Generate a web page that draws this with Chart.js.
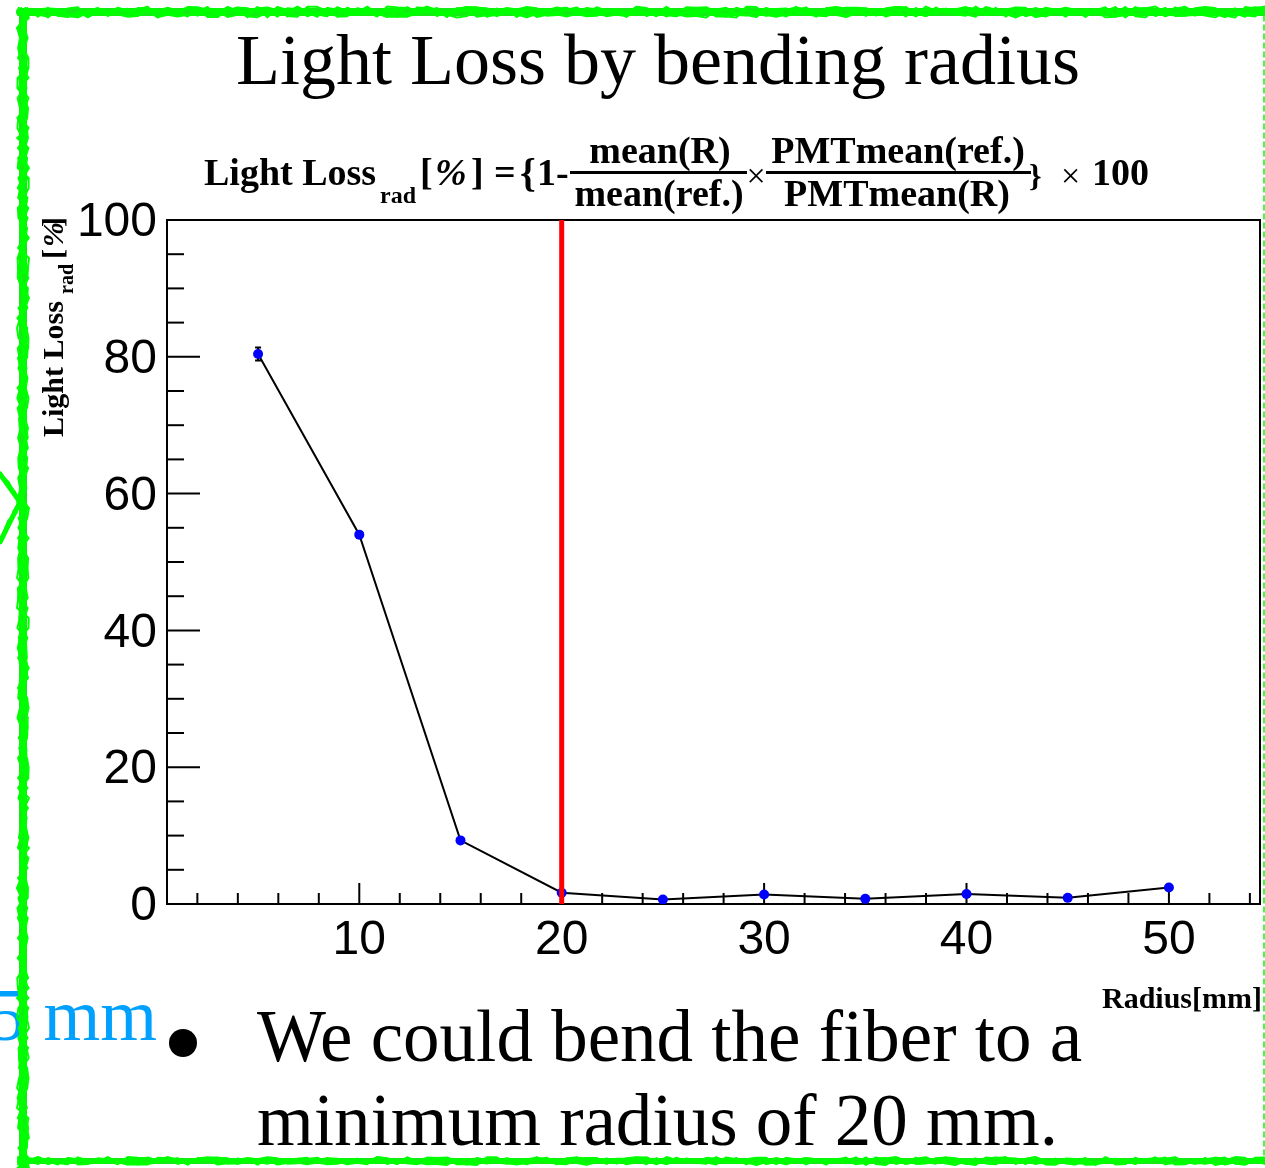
<!DOCTYPE html>
<html><head><meta charset="utf-8">
<script src="https://cdn.jsdelivr.net/npm/chart.js@4/dist/chart.umd.min.js"></script>
<style>html,body{margin:0;padding:0;background:#fff;overflow:hidden}#wrap{position:relative;width:1265px;height:1168px}canvas{display:block}</style>
</head><body><div id="wrap"><canvas id="c" width="1265" height="1168"></canvas></div>
<script>
// ---- data ----
const radius = [5, 10, 15, 20, 25, 30, 35, 40, 45, 50];
const lightLoss = [80.4, 54.0, 9.3, 1.65, 0.65, 1.4, 0.75, 1.45, 0.9, 2.4];
const lightLossErr = [0.95, 0.4, 0.3, 0.2, 0.2, 0.3, 0.2, 0.3, 0.2, 0.3];
const xTickLabels = [10, 20, 30, 40, 50];
const yTickLabels = [0, 20, 40, 60, 80, 100];
const minRadiusLine = 20;
const xRange = [0.5, 54.5];
const yRange = [0, 100];

const SANS = "'Liberation Sans', Arial, sans-serif";
const SERIF = "'Liberation Serif', 'Times New Roman', serif";

function prand(n){ const s = Math.sin(n * 127.1 + 311.7) * 43758.5453; return s - Math.floor(s); }
function scribble(ctx, x1, y1, x2, y2, band, passes, seed, lw){
  const len = Math.hypot(x2 - x1, y2 - y1);
  const steps = Math.max(2, Math.round(len / 10));
  const nx = -(y2 - y1) / len, ny = (x2 - x1) / len;
  ctx.lineWidth = lw;
  for (let p = 0; p < passes; p++){
    ctx.beginPath();
    for (let i = 0; i <= steps; i++){
      const t = i / steps;
      const off = (prand(seed + p * 1000 + i) - 0.5) * band;
      const x = x1 + (x2 - x1) * t + nx * off, y = y1 + (y2 - y1) * t + ny * off;
      if (i) ctx.lineTo(x, y); else ctx.moveTo(x, y);
    }
    ctx.stroke();
  }
}

const decor = {
  id: 'decor',
  beforeDraw(chart){
    const ctx = chart.ctx;
    ctx.save(); ctx.fillStyle = '#fff'; ctx.fillRect(0, 0, chart.width, chart.height); ctx.restore();
  },
  beforeDatasetsDraw(chart){
    const ctx = chart.ctx, a = chart.chartArea, xs = chart.scales.x, ys = chart.scales.y;
    ctx.save();
    ctx.strokeStyle = '#000'; ctx.lineWidth = 2;
    // frame
    ctx.strokeRect(a.left, a.top, a.right - a.left, a.bottom - a.top);
    // x ticks
    for (let v = 2; v <= xRange[1]; v += 2){
      const px = xs.getPixelForValue(v);
      const len = (v % 10 === 0) ? 21 : 11;
      ctx.beginPath(); ctx.moveTo(px, a.bottom); ctx.lineTo(px, a.bottom - len); ctx.stroke();
    }
    // y ticks
    for (let v = 0; v <= yRange[1]; v += 5){
      const py = ys.getPixelForValue(v);
      const len = (v % 20 === 0) ? 33 : 17;
      ctx.beginPath(); ctx.moveTo(a.left, py); ctx.lineTo(a.left + len, py); ctx.stroke();
    }
    // error bars
    ctx.lineWidth = 2;
    radius.forEach((r, i) => {
      const px = xs.getPixelForValue(r);
      const y1 = ys.getPixelForValue(lightLoss[i] + lightLossErr[i]);
      const y2 = ys.getPixelForValue(lightLoss[i] - lightLossErr[i]);
      ctx.beginPath(); ctx.moveTo(px, y1); ctx.lineTo(px, y2);
      ctx.moveTo(px - 3, y1); ctx.lineTo(px + 3, y1);
      ctx.moveTo(px - 3, y2); ctx.lineTo(px + 3, y2);
      ctx.stroke();
    });
    ctx.restore();
  },
  afterDatasetsDraw(chart){
    const ctx = chart.ctx, a = chart.chartArea, xs = chart.scales.x;
    ctx.save();
    ctx.strokeStyle = '#ff0000'; ctx.lineWidth = 5;
    const px = xs.getPixelForValue(minRadiusLine);
    ctx.beginPath(); ctx.moveTo(px, a.top); ctx.lineTo(px, a.bottom); ctx.stroke();
    ctx.restore();
  },
  afterDraw(chart){
    const ctx = chart.ctx;
    ctx.save();
    ctx.fillStyle = '#000';
    // main title
    ctx.font = "72px " + SERIF; ctx.textAlign = 'center'; ctx.textBaseline = 'alphabetic';
    ctx.fillText('Light Loss by bending radius', 658, 84);

    // formula
    ctx.textAlign = 'left';
    const B = "bold 38px " + SERIF;
    ctx.font = B; ctx.fillText('Light Loss', 204, 185);
    ctx.font = "bold 24px " + SERIF; ctx.fillText('rad', 380, 203);
    ctx.font = B; ctx.fillText('[', 420, 185);
    ctx.font = "bold italic 38px " + SERIF; ctx.fillText('%', 435, 185);
    ctx.font = B; ctx.fillText(']', 471, 185);
    ctx.fillText('=', 494, 185);
    ctx.font = "bold 40px " + SERIF; ctx.fillText('{', 520, 186);
    ctx.font = B; ctx.fillText('1-', 537, 185);
    ctx.textAlign = 'center';
    ctx.fillText('mean(R)', 660, 163);
    ctx.fillText('mean(ref.)', 659, 206);
    ctx.fillRect(570, 171, 177, 3);
    ctx.font = "34px " + SERIF; ctx.fillText('\u00d7', 756, 187);
    ctx.font = B;
    ctx.fillText('PMTmean(ref.)', 898, 163);
    ctx.fillText('PMTmean(R)', 897, 206);
    ctx.fillRect(766, 171, 265, 3);
    ctx.textAlign = 'left';
    ctx.font = "bold 32px " + SERIF; ctx.fillText('}', 1029, 186);
    ctx.font = "34px " + SERIF; ctx.fillText('\u00d7', 1061, 187);
    ctx.font = B; ctx.fillText('100', 1092, 185);

    // y axis title
    ctx.save();
    ctx.translate(63, 437); ctx.rotate(-Math.PI / 2);
    ctx.textAlign = 'left';
    ctx.font = "bold 30px " + SERIF; ctx.fillText('Light Loss', 0, 0);
    ctx.font = "bold 20px " + SERIF; ctx.fillText('rad', 143, 10);
    ctx.font = "bold 30px " + SERIF; ctx.fillText('[', 178, 0);
    ctx.font = "bold italic 30px " + SERIF; ctx.fillText('%', 190, 0);
    ctx.font = "bold 30px " + SERIF; ctx.fillText(']', 210, 0);
    ctx.restore();

    // x axis title
    ctx.textAlign = 'right';
    ctx.font = "bold 30px " + SERIF; ctx.fillText('Radius[mm]', 1262, 1008);

    // slide text
    ctx.fillStyle = '#00a0ff';
    ctx.font = "73px " + SERIF; ctx.textAlign = 'right';
    ctx.fillText('5 mm', 157, 1040);
    ctx.fillStyle = '#000';
    ctx.beginPath(); ctx.arc(183, 1043, 14, 0, Math.PI * 2); ctx.fill();
    ctx.textAlign = 'left';
    ctx.fillText('We could bend the fiber to a', 257, 1061);
    ctx.fillText('minimum radius of 20 mm.', 257, 1145);

    // green hand-drawn border
    ctx.lineCap = 'round'; ctx.lineJoin = 'round';
    ctx.strokeStyle = 'rgb(20,235,20)';
    ctx.lineWidth = 8;
    ctx.beginPath(); ctx.moveTo(20, 12); ctx.lineTo(1265, 12); ctx.stroke();
    ctx.beginPath(); ctx.moveTo(23, 12); ctx.lineTo(23, 1168); ctx.stroke();
    ctx.lineWidth = 6;
    ctx.beginPath(); ctx.moveTo(20, 1161); ctx.lineTo(1265, 1161); ctx.stroke();
    ctx.strokeStyle = 'rgb(0,255,0)';
    scribble(ctx, 18, 12, 1265, 12, 11, 6, 11, 2);
    scribble(ctx, 23, 8, 23, 1168, 12, 6, 23, 2);
    scribble(ctx, 18, 1161, 1265, 1161, 8, 5, 37, 2);
    ctx.lineWidth = 5;
    ctx.beginPath(); ctx.moveTo(0, 474); ctx.lineTo(20, 502); ctx.lineTo(0, 542); ctx.stroke();
    scribble(ctx, 0, 474, 20, 502, 5, 3, 51, 2);
    scribble(ctx, 20, 502, 0, 542, 5, 3, 61, 2);
    ctx.setLineDash([5, 4]); ctx.lineWidth = 1.5;
    ctx.beginPath(); ctx.moveTo(1264, 16); ctx.lineTo(1264, 1158); ctx.stroke();
    ctx.restore();
  }
};

new Chart(document.getElementById('c'), {
  type: 'line',
  data: {
    datasets: [{
      data: radius.map((r, i) => ({ x: r, y: lightLoss[i] })),
      borderColor: '#000', borderWidth: 2, tension: 0,
      pointRadius: 5, pointBackgroundColor: '#0000ff', pointBorderWidth: 0,
      pointHoverRadius: 5
    }]
  },
  options: {
    responsive: false, animation: false, devicePixelRatio: 1,
    layout: { padding: { left: 0, top: 220, right: 0, bottom: 0 } },
    plugins: { legend: { display: false }, tooltip: { enabled: false } },
    events: [],
    scales: {
      x: {
        type: 'linear', min: xRange[0], max: xRange[1],
        afterBuildTicks: s => { s.ticks = xTickLabels.map(v => ({ value: v })); },
        afterFit: s => { s.height = 264; },
        grid: { display: false, drawTicks: false }, border: { display: false },
        ticks: { color: '#000', font: { family: SANS, size: 48 }, padding: 8, maxRotation: 0, autoSkip: false }
      },
      y: {
        type: 'linear', min: yRange[0], max: yRange[1],
        afterBuildTicks: s => { s.ticks = yTickLabels.map(v => ({ value: v })); },
        afterFit: s => { s.width = 167; },
        grid: { display: false, drawTicks: false }, border: { display: false },
        ticks: { color: '#000', font: { family: SANS, size: 48 }, padding: 10, labelOffset: 3 }
      }
    }
  },
  plugins: [decor]
});
</script>
</body></html>
